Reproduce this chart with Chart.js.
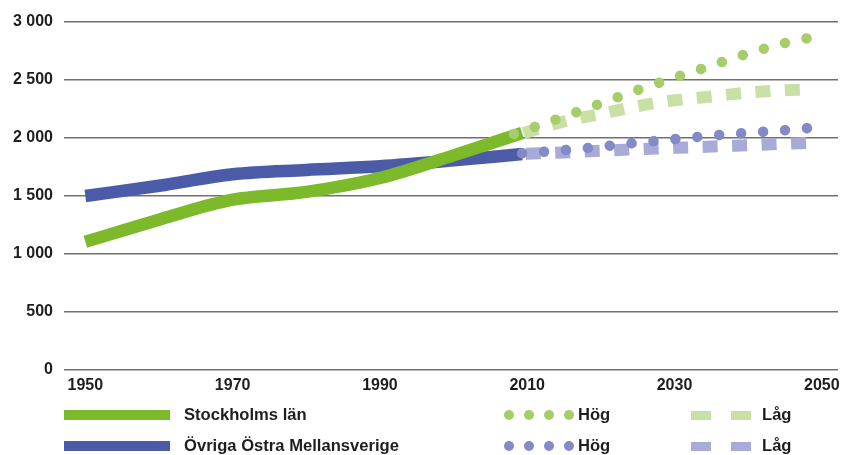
<!DOCTYPE html>
<html>
<head>
<meta charset="utf-8">
<script src="https://cdn.jsdelivr.net/npm/chart.js@4.4.0/dist/chart.umd.min.js"></script>
<style>
body { margin: 0; background: #fff; }
#wrap { position: relative; width: 843px; height: 455px; font-family: "Liberation Sans", Arial, sans-serif; font-weight: bold; color: #1e1e1e; }
#wrap canvas { position: absolute; left: 0; top: 0; }
.lg { position: absolute; font-size: 16.6px; line-height: 18px; white-space: nowrap; }
.sw { position: absolute; }
</style>
</head>
<body>
<div id="wrap">
  <canvas id="popChart" width="843" height="455"></canvas>
  <div id="legend"></div>
</div>
<script>
// historic series (thousands)
var histYears = [1950, 1960, 1970, 1980, 1990, 2000, 2009.3];
var stockholm = [1105, 1296, 1468, 1535, 1655, 1850, 2043];
var ovriga = [1500, 1588, 1688, 1725, 1756, 1807, 1862];

// projections
var sthlmHogYears = [2008.2, 2015, 2020, 2025, 2030, 2035, 2040, 2045, 2049];
var sthlmHog = [2034, 2184, 2298, 2414, 2520, 2624, 2729, 2819, 2872];
var sthlmLagYears = [2009.5, 2015, 2020, 2025, 2030, 2035, 2040, 2045, 2048];
var sthlmLag = [2042, 2142, 2208, 2275, 2325, 2358, 2391, 2412, 2418];
var ovrigaHogYears = [2009.3, 2015, 2020, 2025, 2030, 2035, 2040, 2045, 2048.5];
var ovrigaHog = [1868, 1895, 1925, 1960, 1990, 2020, 2045, 2067, 2088];
var ovrigaLagYears = [2009.8, 2015, 2020, 2025, 2030, 2035, 2040, 2045, 2048];
var ovrigaLag = [1865, 1876, 1890, 1903, 1915, 1926, 1938, 1950, 1957];

var xTicks = [1950, 1970, 1990, 2010, 2030, 2050];
var yTicks = [0, 500, 1000, 1500, 2000, 2500, 3000];
var seriesNames = ['Stockholms län', 'Övriga Östra Mellansverige'];
var scenarioNames = ['Hög', 'Låg'];

var colors = {
    green: '#7cb92b',
    blue: '#4c5ba8',
    greenHog: '#a6cd6a',
    greenLag: '#c9e0a4',
    blueHog: '#8489c7',
    blueLag: '#a8aad8'
};

function pts(xs, ys) {
    return xs.map(function (x, i) { return { x: x, y: ys[i] }; });
}

function fmt(v) {
    return String(v).replace(/\B(?=(\d{3})+(?!\d))/g, ' ');
}

var dotted = { borderWidth: 10.5, borderDash: [0.01, 21.99], borderCapStyle: 'round' };
var dashed = { borderWidth: 12, borderDash: [15, 14.5], borderCapStyle: 'butt' };

function line(label, data, color, style) {
    var ds = {
        label: label,
        data: data,
        borderColor: color,
        backgroundColor: color,
        fill: false,
        pointRadius: 0,
        cubicInterpolationMode: 'monotone',
        borderJoinStyle: 'round'
    };
    for (var k in style) ds[k] = style[k];
    return ds;
}

// first dataset is drawn on top
var datasets = [
    line(seriesNames[0] + ' ' + scenarioNames[0], pts(sthlmHogYears, sthlmHog), colors.greenHog, dotted),
    line(seriesNames[1] + ' ' + scenarioNames[0], pts(ovrigaHogYears, ovrigaHog), colors.blueHog, dotted),
    line(seriesNames[0] + ' ' + scenarioNames[1], pts(sthlmLagYears, sthlmLag), colors.greenLag, dashed),
    line(seriesNames[1] + ' ' + scenarioNames[1], pts(ovrigaLagYears, ovrigaLag), colors.blueLag, dashed),
    line(seriesNames[0], pts(histYears, stockholm), colors.green, { borderWidth: 12.5, borderCapStyle: 'butt' }),
    line(seriesNames[1], pts(histYears, ovriga), colors.blue, { borderWidth: 12.5, borderCapStyle: 'butt' })
];

var tickFont = { family: '"Liberation Sans", Arial, sans-serif', size: 16, weight: 'bold' };

new Chart(document.getElementById('popChart'), {
    type: 'line',
    data: { datasets: datasets },
    options: {
        responsive: false,
        animation: false,
        layout: { padding: { top: 22, right: 5, bottom: 60, left: 0 } },
        plugins: { legend: { display: false }, tooltip: { enabled: false } },
        scales: {
            x: {
                type: 'linear',
                min: 1947.1,
                max: 2052.2,
                grid: { display: false, drawTicks: false },
                border: { display: false },
                afterBuildTicks: function (scale) {
                    scale.ticks = xTicks.map(function (v) { return { value: v }; });
                },
                afterFit: function (scale) {
                    scale.height = 25;
                    scale.paddingLeft = 0;
                    scale.paddingRight = 0;
                },
                ticks: {
                    padding: 6,
                    maxRotation: 0,
                    autoSkip: false,
                    color: '#1e1e1e',
                    font: tickFont,
                    callback: function (v) { return String(v); }
                }
            },
            y: {
                min: 0,
                max: 3000,
                afterBuildTicks: function (scale) {
                    scale.ticks = yTicks.map(function (v) { return { value: v }; });
                },
                afterFit: function (scale) { scale.width = 64; },
                grid: { color: '#707070', lineWidth: 1.5, drawTicks: false },
                border: { display: false },
                ticks: {
                    padding: 11,
                    color: '#1e1e1e',
                    font: tickFont,
                    callback: function (v) { return fmt(v); }
                }
            }
        }
    }
});

// legend
var legend = document.getElementById('legend');
var rows = [
    { y: 415, name: seriesNames[0], solid: colors.green, hog: colors.greenHog, lag: colors.greenLag },
    { y: 446, name: seriesNames[1], solid: colors.blue, hog: colors.blueHog, lag: colors.blueLag }
];
var html = '';
rows.forEach(function (r) {
    html += '<div class="sw" style="left:64px;top:' + (r.y - 5) + 'px;width:106px;height:10px;background:' + r.solid + '"></div>';
    html += '<div class="lg" style="left:184px;top:' + (r.y - 9) + 'px">' + r.name + '</div>';
    for (var i = 0; i < 4; i++) {
        html += '<div class="sw" style="left:' + (504 + i * 20) + 'px;top:' + (r.y - 5) + 'px;width:10px;height:10px;border-radius:5px;background:' + r.hog + '"></div>';
    }
    html += '<div class="lg" style="left:578px;top:' + (r.y - 9) + 'px">' + scenarioNames[0] + '</div>';
    html += '<div class="sw" style="left:691px;top:' + (r.y - 4) + 'px;width:20px;height:9px;background:' + r.lag + '"></div>';
    html += '<div class="sw" style="left:731px;top:' + (r.y - 4) + 'px;width:20px;height:9px;background:' + r.lag + '"></div>';
    html += '<div class="lg" style="left:762px;top:' + (r.y - 9) + 'px">' + scenarioNames[1] + '</div>';
});
legend.innerHTML = html;
</script>
</body>
</html>
